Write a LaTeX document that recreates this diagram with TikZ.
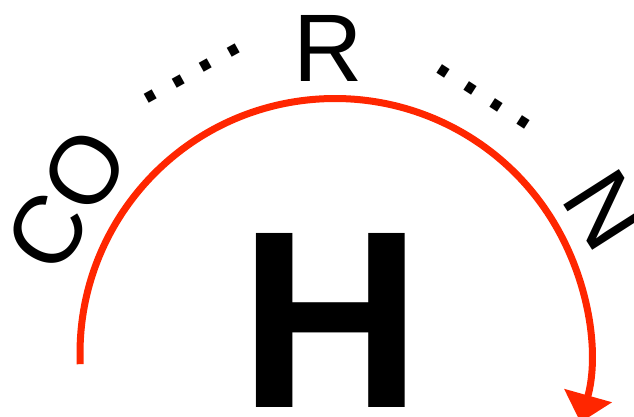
\documentclass[tikz,border=0pt]{standalone}
\usepackage{fontspec}
\setmainfont{Liberation Sans}
\usetikzlibrary{arrows.meta, calc}
\definecolor{cArc}{HTML}{FF2600}
\tikzset{
  lbl/.style={
    inner sep=0pt, font=\fontsize{96pt}{100pt}\selectfont
  },
  dotrow/.style={
    inner sep=0pt, font=\fontsize{96pt}{100pt}\selectfont
  },
  bigletter/.style={
    inner sep=0pt, font=\fontsize{253pt}{260pt}\selectfont\bfseries
  },
  arcarrow/.style={
    -{Triangle[length=28pt, width=48pt]}, line width=7pt, color=cArc
  },
}
\newcommand{\dotgap}{\hspace{4.8pt}}

\begin{document}
\begin{tikzpicture}[x=1pt, y=1pt]
\useasboundingbox (0,0) rectangle (634,417);

% centre of the arc
\coordinate (ctr) at (335,63.5);

% big letter
\node[bigletter] (hh) at ($(ctr)+(-4,33)$) {H};

% labels round the arc
\node[lbl, rotate=58.6] (co) at ($(ctr)+(-268.3,153.5)$) {CO};
\node[lbl] (rr) at ($(ctr)+(-7,304.8)$) {R};
\node[lbl, rotate=-57.4] (nn) at ($(ctr)+(270.8,143.5)$) {N};

% dotted gaps
\node[dotrow, rotate=29] (dl) at ($(ctr)+(-142.7,280)$) {.\dotgap.\dotgap.\dotgap.};
\node[dotrow, rotate=-32.8] (dr) at ($(ctr)+(148.5,256.5)$) {.\dotgap.\dotgap.\dotgap.};

% red arc
\coordinate (start) at ($(ctr)+(182.4:255)$);
\draw[arcarrow] (start) arc[start angle=182.4, end angle=-15.7, radius=255];

\end{tikzpicture}
\end{document}
